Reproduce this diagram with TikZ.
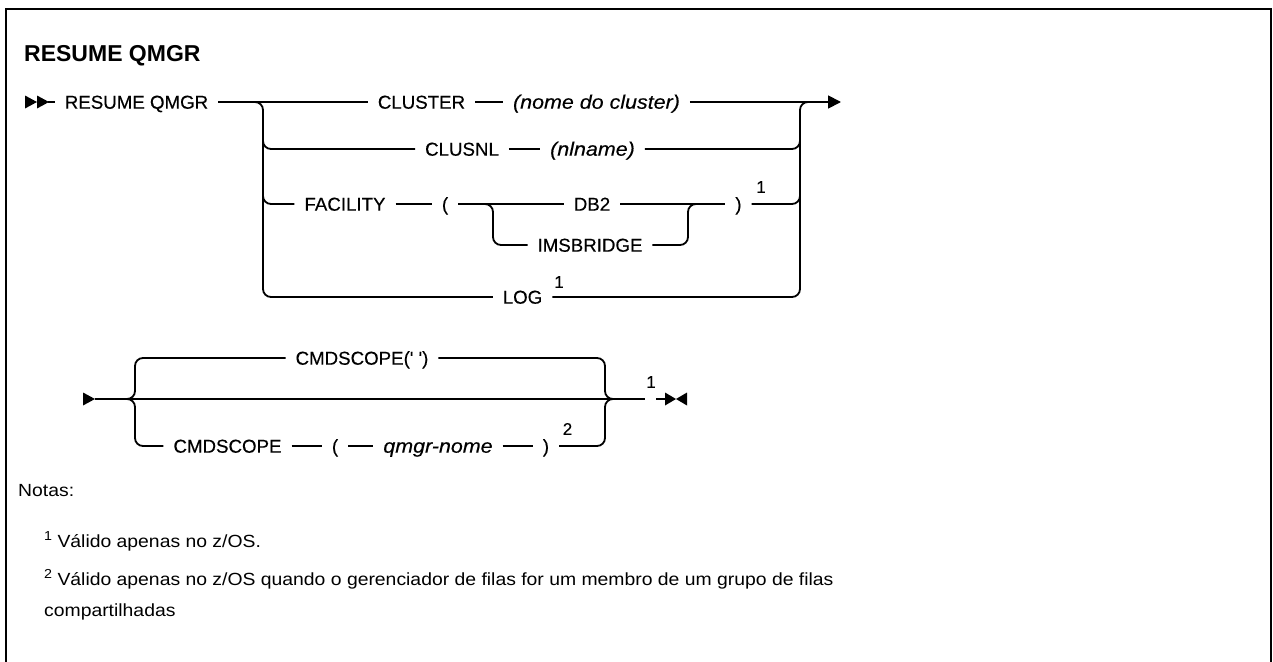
\documentclass[tikz,border=0pt]{standalone}
\usepackage{fontspec}
\setmainfont{Liberation Sans}
\newfontfamily\lblfont[FakeBold=0.35]{Liberation Sans}
\newfontfamily\widefont[FakeStretch=1.1]{Liberation Sans}
\newfontfamily\wideitfont[FakeStretch=1.1,FakeBold=0.35]{Liberation Sans}
\usetikzlibrary{arrows.meta}
\tikzset{
  lbl/.style={font=\fontsize{18.7}{20}\selectfont\lblfont, inner sep=0pt, outer xsep=10pt, text height=13.4pt, text depth=0pt, anchor=center},
  ilbl/.style={lbl, font=\fontsize{19.5}{20}\selectfont\wideitfont\itshape},
  sup/.style={font=\fontsize{17}{17}\selectfont\lblfont, inner sep=0pt, anchor=center},
  rail/.style={line width=1.8pt},
  rr/.style={rail, rounded corners=8pt},
  note/.style={font=\fontsize{17.6}{20}\selectfont\widefont, inner sep=0pt, anchor=base west},
}
\begin{document}
\begin{tikzpicture}[x=1pt,y=-1pt]
\useasboundingbox (0,0) rectangle (1273,661);
% frame
\draw[line width=2.2pt] (6,700) -- (6,9) -- (1271,9) -- (1271,700);
% title
\node[font=\fontsize{23}{24}\selectfont\bfseries, inner sep=0pt, anchor=base west] (title) at (24,62) {RESUME QMGR};

% ---------- first diagram ----------
\node[lbl] (rq) at (136.5,102) {RESUME QMGR};
\node[lbl] (cl) at (421.5,102) {CLUSTER};
\node[ilbl] (cln) at (596.5,102) {(nome do cluster)};
\node[lbl] (cn) at (462,149) {CLUSNL};
\node[ilbl] (nl) at (592.5,149) {(nlname)};
\node[lbl] (fa) at (345,204) {FACILITY};
\node[lbl] (lp) at (445,204) {(};
\node[lbl] (db) at (592,204) {DB2};
\node[lbl] (rp) at (738.5,204) {)};
\node[sup] (s1) at (761,187) {1};
\node[lbl] (ims) at (590,245) {IMSBRIDGE};
\node[lbl] (log) at (522.5,297) {LOG};
\node[sup] (s2) at (559,282) {1};

\coordinate (st1) at (25,102);
\coordinate (end1) at (841,102);
% start double arrow
\fill (25,95.5) -- (37,102) -- (25,108.5) -- cycle;
\fill (37,95.5) -- (49,102) -- (37,108.5) -- cycle;
\draw[rail] (48,102) -- (rq.west);
% main line
\draw[rail] (rq.east) -- (cl.west);
\draw[rail] (cl.east) -- (cln.west);
\draw[rail,-{Triangle[length=13pt,width=13pt]}] (cln.east) -- (end1);
% left branch
\draw[rr] (250,102) -- (263,102) -- (263,297) -- (log.west);
\draw[rr] (263,130) -- (263,149) -- (cn.west);
\draw[rr] (263,185) -- (263,204) -- (fa.west);
% right branch
\draw[rr] (log.east) -- (800,297) -- (800,102) -- (815,102);
\draw[rail] (cn.east) -- (nl.west);
\draw[rr] (nl.east) -- (800,149) -- (800,130);
\draw[rail] (fa.east) -- (lp.west);
\draw[rail] (lp.east) -- (db.west);
\draw[rr] (483,204) -- (493,204) -- (493,245) -- (ims.west);
\draw[rr] (ims.east) -- (688,245) -- (688,204) -- (698,204);
\draw[rail] (db.east) -- (rp.west);
\draw[rr] (rp.east) -- (800,204) -- (800,185);

% ---------- second diagram ----------
\node[lbl] (cs1) at (362,358) {CMDSCOPE(' ')};
\node[lbl] (cs2) at (227.5,446) {CMDSCOPE};
\node[lbl] (lp2) at (335,446) {(};
\node[ilbl] (qm) at (438,446) {qmgr-nome};
\node[lbl] (rp2) at (546,446) {)};
\node[sup] (s3) at (567.5,429) {2};
\node[sup] (s4) at (651,382) {1};

\coordinate (st2) at (95,399);
\coordinate (mid2) at (645,399);
\fill (83,392.5) -- (95,399) -- (83,405.5) -- cycle;
\draw[rail] (st2) -- (mid2);
% left brace
\draw[rr] (127,399) -- (135,399) -- (135,358) -- (cs1.west);
\draw[rr] (127,399) -- (135,399) -- (135,446) -- (cs2.west);
% bottom row
\draw[rail] (cs2.east) -- (lp2.west);
\draw[rail] (lp2.east) -- (qm.west);
\draw[rail] (qm.east) -- (rp2.west);
% right brace
\draw[rr] (cs1.east) -- (605,358) -- (605,399) -- (614,399);
\draw[rr] (rp2.east) -- (605,446) -- (605,399) -- (614,399);
% end
\draw[rail] (656,399) -- (666,399);
\fill (665,392.5) -- (676,399) -- (665,405.5) -- cycle;
\fill (687,392.5) -- (676,399) -- (687,405.5) -- cycle;

% ---------- notes ----------
\node[note] (notas) at (18,496) {Notas:};
\node[note] (n1) at (44,547) {\raisebox{7pt}{\fontsize{13}{13}\selectfont 1} Válido apenas no z/OS.};
\node[note] (n2) at (44,585) {\raisebox{7pt}{\fontsize{13}{13}\selectfont 2} Válido apenas no z/OS quando o gerenciador de filas for um membro de um grupo de filas};
\node[note] (n3) at (44,616) {compartilhadas};
\end{tikzpicture}
\end{document}
